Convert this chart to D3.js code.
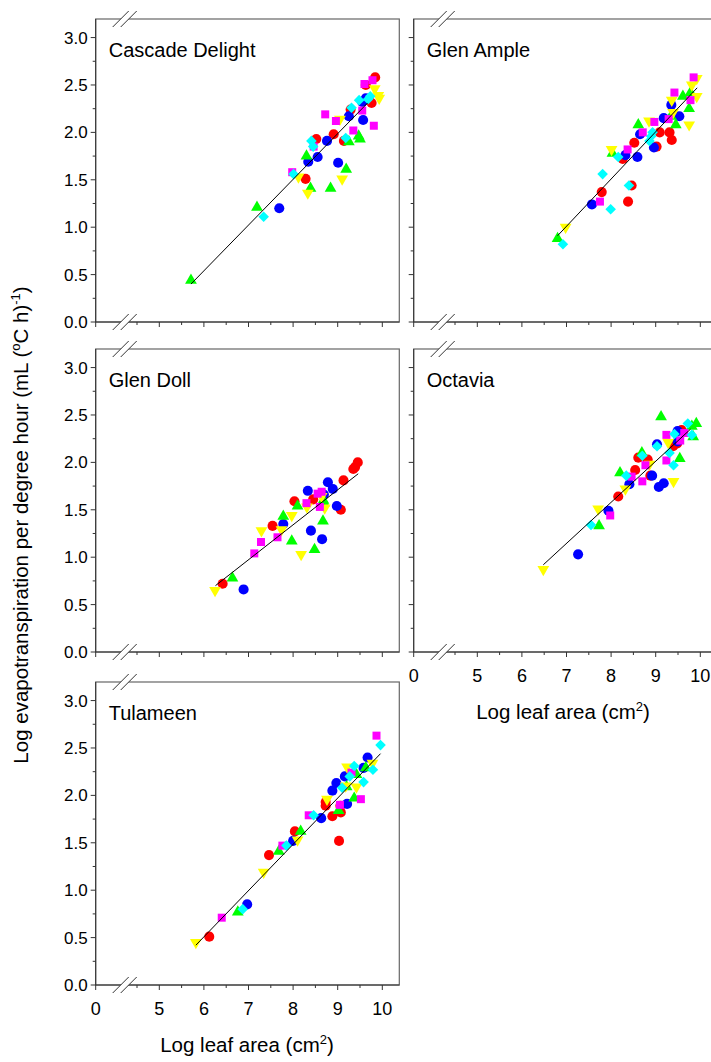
<!DOCTYPE html>
<html>
<head>
<meta charset="utf-8">
<script src="https://cdn.jsdelivr.net/npm/d3@7"></script>
<style>
  body { margin: 0; background: #fff; }
  svg { font-family: "Liberation Sans", Arial, sans-serif; }
</style>
</head>
<body>
<div id="chart"></div>
<script>
// points are [log leaf area, log ET per degree hour]
const cascadeDelight = {
  green:   [[5.71,0.44],[7.19,1.21],[8.30,1.75],[8.39,1.41],[8.84,1.41],[9.19,1.61],[9.25,1.90],[9.47,1.96],[9.50,1.93]],
  blue:    [[7.69,1.20],[8.34,1.69],[8.55,1.74],[8.76,1.91],[9.01,1.68],[9.25,2.17],[9.57,2.13],[9.55,2.32],[9.63,2.36]],
  red:     [[8.28,1.51],[8.52,1.93],[8.91,1.98],[9.14,1.91],[9.29,2.24],[9.63,2.50],[9.76,2.31],[9.84,2.58],[9.69,2.34]],
  yellow:  [[8.33,1.36],[8.12,1.53],[9.10,1.51],[9.05,2.14],[9.83,2.46],[9.93,2.36],[9.91,2.39]],
  magenta: [[7.98,1.58],[8.46,1.85],[8.72,2.19],[8.96,2.12],[9.35,2.02],[9.55,2.23],[9.60,2.51],[9.78,2.55],[9.81,2.07]],
  cyan:    [[7.34,1.11],[8.01,1.56],[8.41,1.91],[8.45,1.85],[9.18,1.94],[9.31,2.26],[9.48,2.34],[9.68,2.35],[9.73,2.38]]
};
const glenAmple = {
  green:   [[6.80,0.88],[8.03,1.78],[8.61,2.08],[9.34,2.17],[9.45,2.08],[9.61,2.38],[9.75,2.25],[9.78,2.42]],
  blue:    [[7.57,1.24],[8.32,1.76],[8.59,1.74],[8.65,1.98],[8.96,1.84],[9.18,2.15],[9.35,2.29],[9.53,2.17]],
  red:     [[7.79,1.37],[8.26,1.72],[8.38,1.27],[8.46,1.44],[8.52,1.89],[9.02,1.85],[9.09,2.00],[9.31,2.00],[9.36,1.92]],
  yellow:  [[6.98,1.00],[8.01,1.82],[8.85,2.12],[9.36,2.34],[9.39,2.21],[9.75,2.08],[9.81,2.50],[9.92,2.38],[9.92,2.57]],
  magenta: [[7.75,1.27],[8.37,1.82],[8.71,2.00],[8.97,2.11],[9.29,2.14],[9.42,2.42],[9.78,2.34],[9.85,2.58]],
  cyan:    [[6.92,0.82],[7.81,1.56],[7.99,1.19],[8.16,1.74],[8.40,1.44],[8.86,1.91],[8.90,1.96],[8.93,2.00]]
};
const glenDoll = {
  green:   [[6.64,0.78],[7.78,1.43],[7.97,1.17],[8.10,1.54],[8.48,1.08],[8.67,1.38],[8.68,1.60],[8.69,1.57]],
  blue:    [[6.89,0.66],[7.78,1.35],[8.33,1.70],[8.40,1.28],[8.65,1.19],[8.69,1.66],[8.78,1.79],[8.89,1.72],[8.98,1.54]],
  red:     [[6.42,0.72],[7.54,1.33],[8.03,1.59],[8.45,1.61],[9.07,1.50],[9.13,1.81],[9.35,1.93],[9.45,2.00],[9.39,1.95]],
  yellow:  [[6.25,0.65],[7.29,1.28],[7.74,1.29],[7.97,1.44],[8.18,1.03],[8.31,1.53],[8.64,1.64],[8.71,1.52]],
  magenta: [[7.13,1.04],[7.28,1.16],[7.65,1.21],[8.30,1.57],[8.55,1.67],[8.64,1.69],[8.60,1.53]],
  cyan:    []
};
const octavia = {
  green:   [[7.73,1.33],[8.20,1.89],[8.69,2.10],[9.12,2.48],[9.54,2.04],[9.84,2.27],[9.81,2.38],[9.91,2.41]],
  blue:    [[7.26,1.03],[7.94,1.49],[8.41,1.77],[8.92,1.86],[9.03,2.19],[9.07,1.74],[9.18,1.78],[9.49,2.33],[9.49,2.22]],
  red:     [[8.16,1.64],[8.54,1.92],[8.61,2.05],[8.82,2.03],[8.88,1.86],[9.39,2.17],[9.48,2.20],[9.58,2.34]],
  yellow:  [[6.48,0.87],[7.71,1.51],[8.32,1.72],[8.86,1.98],[9.28,2.21],[9.40,1.80]],
  magenta: [[7.98,1.44],[8.46,1.85],[8.70,1.80],[8.77,1.97],[9.24,2.29],[9.24,2.02],[9.55,2.23],[9.64,2.31]],
  cyan:    [[7.55,1.34],[8.34,1.86],[8.70,2.07],[9.03,2.17],[9.31,2.10],[9.40,1.97],[9.42,2.30],[9.72,2.41],[9.81,2.29]]
};
const tulameen = {
  green:   [[6.76,0.77],[7.68,1.41],[8.17,1.62],[9.02,1.84],[9.20,2.09],[9.37,1.97],[9.42,2.22],[9.63,2.29]],
  blue:    [[6.97,0.85],[8.00,1.52],[8.63,1.76],[8.88,2.05],[8.97,2.13],[9.16,2.20],[9.21,1.91],[9.58,2.29],[9.67,2.40]],
  red:     [[6.12,0.51],[7.46,1.37],[8.04,1.62],[8.73,1.93],[8.73,1.89],[8.88,1.78],[9.06,1.89],[9.07,1.82],[9.03,1.52]],
  yellow:  [[5.82,0.45],[7.34,1.19],[8.10,1.53],[8.76,1.96],[9.21,2.30],[9.18,2.10],[9.42,2.09],[9.78,2.34]],
  magenta: [[6.40,0.71],[7.76,1.47],[8.35,1.79],[9.05,1.90],[9.31,2.24],[9.52,1.96],[9.87,2.63]],
  cyan:    [[6.87,0.80],[7.85,1.47],[8.46,1.79],[9.10,2.08],[9.27,2.20],[9.37,2.31],[9.58,2.14],[9.79,2.27],[9.96,2.53]]
};
// fitted lines, [x0, y0, x1, y1]
const fitLines = {
  "Cascade Delight": [5.71,0.40,9.67,2.31],
  "Glen Ample": [6.80,0.91,9.93,2.47],
  "Glen Doll": [6.26,0.70,9.46,1.88],
  "Octavia": [6.48,0.92,9.78,2.35],
  "Tulameen": [5.82,0.42,9.96,2.44]
};
const xTicks = [0, 5, 6, 7, 8, 9, 10];
const xMinor = [4.5, 5.5, 6.5, 7.5, 8.5, 9.5];
const yTicks = [0, 0.5, 1.0, 1.5, 2.0, 2.5, 3.0];
const yMinor = [0.25, 0.75, 1.25, 1.75, 2.25, 2.75];

const panels = [
  { name: "Cascade Delight", data: cascadeDelight, col: 0, row: 0, xlab: false, ylab: true },
  { name: "Glen Ample", data: glenAmple, col: 1, row: 0, xlab: false, ylab: false },
  { name: "Glen Doll", data: glenDoll, col: 0, row: 1, xlab: false, ylab: true },
  { name: "Octavia", data: octavia, col: 1, row: 1, xlab: true, ylab: false },
  { name: "Tulameen", data: tulameen, col: 0, row: 2, xlab: true, ylab: true }
];
const seriesOrder = ["red", "blue", "green", "yellow", "magenta", "cyan"];
const colors = { red: "#ff0000", blue: "#0000ff", green: "#00ff00", yellow: "#ffff00", magenta: "#ff00ff", cyan: "#00ffff" };
const shapes = { red: d3.symbolCircle, blue: d3.symbolCircle, green: d3.symbolTriangle, yellow: d3.symbolTriangle, magenta: d3.symbolSquare, cyan: d3.symbolSquare };
const sizes = { red: 80, blue: 80, green: 60, yellow: 60, magenta: 64, cyan: 56 };
const turns = { red: '', blue: '', green: '', yellow: ' rotate(180)', magenta: '', cyan: ' rotate(45)' };

const W = 711, H = 1062;
const colLeft = [95.7, 413.7];
const panelW = 303.6;
const rowBottom = [322, 652, 985];
const panelH = 303;

const svg = d3.select('#chart').append('svg').attr('width', W).attr('height', H);

panels.forEach(p => {
  const left = colLeft[p.col], bottom = rowBottom[p.row], top = bottom - panelH;
  const lin = d3.scaleLinear().domain([5, 10]).range([left + 63.6, left + 63.6 + 223]);
  const x = v => v === 0 ? left : lin(v);
  const y = d3.scaleLinear().domain([0, 3.2]).range([bottom, bottom - 303.4]);
  const g = svg.append('g');

  g.append('rect').attr('x', left).attr('y', top).attr('width', panelW).attr('height', panelH)
    .attr('fill', 'none').attr('stroke', '#666').attr('stroke-width', 1.2);
  g.append('line').attr('x1', left).attr('x2', left).attr('y1', top).attr('y2', bottom).attr('stroke', '#333');
  g.append('line').attr('x1', left).attr('x2', left + panelW).attr('y1', bottom).attr('y2', bottom).attr('stroke', '#333');

  yTicks.forEach(t => {
    g.append('line').attr('x1', left - 5).attr('x2', left).attr('y1', y(t)).attr('y2', y(t)).attr('stroke', '#333');
    if (p.ylab) g.append('text').attr('x', left - 8).attr('y', y(t)).attr('dy', '0.36em')
      .attr('text-anchor', 'end').attr('font-size', 17).text(t.toFixed(1));
  });
  yMinor.forEach(t => g.append('line').attr('x1', left - 3).attr('x2', left).attr('y1', y(t)).attr('y2', y(t)).attr('stroke', '#333'));
  xTicks.forEach(t => {
    g.append('line').attr('x1', x(t)).attr('x2', x(t)).attr('y1', bottom).attr('y2', bottom + 5).attr('stroke', '#333');
    if (p.xlab) g.append('text').attr('x', x(t)).attr('y', bottom + 30).attr('text-anchor', 'middle')
      .attr('font-size', 18).text(t);
  });
  xMinor.forEach(t => g.append('line').attr('x1', x(t)).attr('x2', x(t)).attr('y1', bottom).attr('y2', bottom + 3).attr('stroke', '#333'));

  // axis break marks on top and bottom edges
  const bx = left + 29;
  [top, bottom].forEach(by => {
    g.append('polygon').attr('points', `${bx - 12},${by + 8} ${bx - 4},${by + 8} ${bx + 12},${by - 8} ${bx + 4},${by - 8}`)
      .attr('fill', '#fff');
    [-4, 4].forEach(o => g.append('line')
      .attr('x1', bx + o - 8).attr('y1', by + 8).attr('x2', bx + o + 8).attr('y2', by - 8)
      .attr('stroke', '#333'));
  });

  g.append('text').attr('x', left + 13).attr('y', top + 38).attr('font-size', 20).text(p.name);

  seriesOrder.forEach(s => {
    const sym = d3.symbol().type(shapes[s]).size(sizes[s]);
    g.selectAll(null).data(p.data[s]).join('path')
      .attr('d', sym)
      .attr('transform', d => `translate(${x(d[0])},${y(d[1])})` + turns[s])
      .attr('fill', colors[s]);
  });

  const f = fitLines[p.name];
  g.append('line').attr('x1', x(f[0])).attr('y1', y(f[1])).attr('x2', x(f[2])).attr('y2', y(f[3]))
    .attr('stroke', '#000').attr('stroke-width', 1);
});

// axis titles
const xTitle = (cx, cy) => {
  const t = svg.append('text').attr('x', cx).attr('y', cy).attr('text-anchor', 'middle').attr('font-size', 20.5);
  t.append('tspan').text('Log leaf area (cm');
  t.append('tspan').attr('dy', -8).attr('font-size', 13).text('2');
  t.append('tspan').attr('dy', 8).text(')');
};
xTitle(247, 1052);
xTitle(563, 719);

const yt = svg.append('text').attr('transform', 'translate(28,525) rotate(-90)')
  .attr('text-anchor', 'middle').attr('font-size', 20.5);
yt.append('tspan').text('Log evapotranspiration per degree hour (mL (');
yt.append('tspan').attr('dy', -8).attr('font-size', 13).text('o');
yt.append('tspan').attr('dy', 8).text('C h)');
yt.append('tspan').attr('dy', -8).attr('font-size', 13).text('-1');
yt.append('tspan').attr('dy', 8).text(')');
</script>
</body>
</html>
